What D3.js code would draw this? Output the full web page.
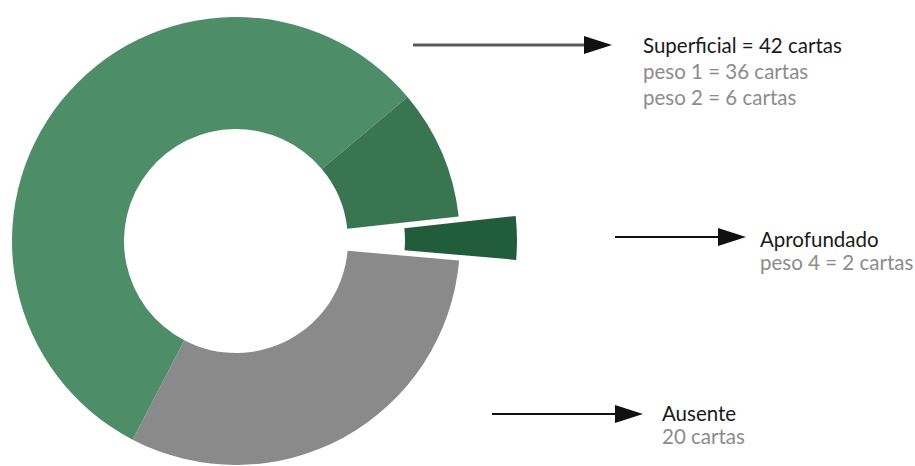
<!DOCTYPE html>
<html>
<head>
<meta charset="utf-8">
<script src="https://cdn.jsdelivr.net/npm/d3@7"></script>
<style>
  html, body { margin: 0; padding: 0; background: #fff; }
  svg { display: block; }
  text { font-family: Lato, "Open Sans", sans-serif; }
</style>
</head>
<body>
<svg class="main" width="915" height="466"></svg>
<script>
// slices, clockwise from just below 3 o'clock
var categories = ["Ausente", "peso 1", "peso 2", "peso 4"],
    values = [20, 36, 6, 2],
    colors = ["#8a8a8a", "#4d8e68", "#3a7552", "#225d3b"],
    exploded = [false, false, false, true];

var labelTitles = ["Superficial = 42 cartas", "Aprofundado", "Ausente"],
    labelLines = [["peso 1 = 36 cartas", "peso 2 = 6 cartas"], ["peso 4 = 2 cartas"], ["20 cartas"]];

var svg = d3.select(".main");

var cx = 236, cy = 241,
    outerR = 224, innerR = 112,
    explode = 57;

var pie = d3.pie()
    .sort(null)
    .value(function(d) { return d; })
    .startAngle(95 * Math.PI / 180)
    .endAngle(95 * Math.PI / 180 + 2 * Math.PI);

var arc = d3.arc().innerRadius(innerR).outerRadius(outerR);

var donut = svg.append("g").attr("transform", "translate(" + cx + "," + cy + ")");

donut.selectAll("path")
    .data(pie(values))
    .join("path")
    .attr("d", arc)
    .attr("fill", function(d, i) { return colors[i]; })
    .attr("transform", function(d, i) {
        if (!exploded[i]) return null;
        var a = (d.startAngle + d.endAngle) / 2;
        return "translate(" + (Math.sin(a) * explode) + "," + (-Math.cos(a) * explode) + ")";
    });

// arrows
var arrows = [
    {x1: 413, x2: 612, y: 45, color: "#5a5a5a", w: 3},
    {x1: 615, x2: 746, y: 237, color: "#111", w: 2},
    {x1: 492, x2: 643, y: 414, color: "#111", w: 2}
];
var ag = svg.append("g");
arrows.forEach(function(a) {
    ag.append("line")
        .attr("x1", a.x1).attr("x2", a.x2 - 20)
        .attr("y1", a.y).attr("y2", a.y)
        .attr("stroke", a.color).attr("stroke-width", a.w);
    ag.append("path")
        .attr("d", "M" + (a.x2 - 28) + "," + (a.y - 9) + "L" + a.x2 + "," + a.y + "L" + (a.x2 - 28) + "," + (a.y + 9) + "Z")
        .attr("fill", "#111");
});

// labels
var labelPos = [
    {x: 643, y: 53, step: 26},
    {x: 760, y: 247, step: 23},
    {x: 662, y: 421, step: 23}
];
var lg = svg.append("g").attr("font-size", 20.5);
labelTitles.forEach(function(t, i) {
    var p = labelPos[i];
    lg.append("text").attr("x", p.x).attr("y", p.y)
        .attr("fill", "#1a1a1a").text(t);
    labelLines[i].forEach(function(s, j) {
        lg.append("text").attr("x", p.x).attr("y", p.y + p.step * (j + 1))
            .attr("fill", "#8c8c8c").text(s);
    });
});
</script>
</body>
</html>
